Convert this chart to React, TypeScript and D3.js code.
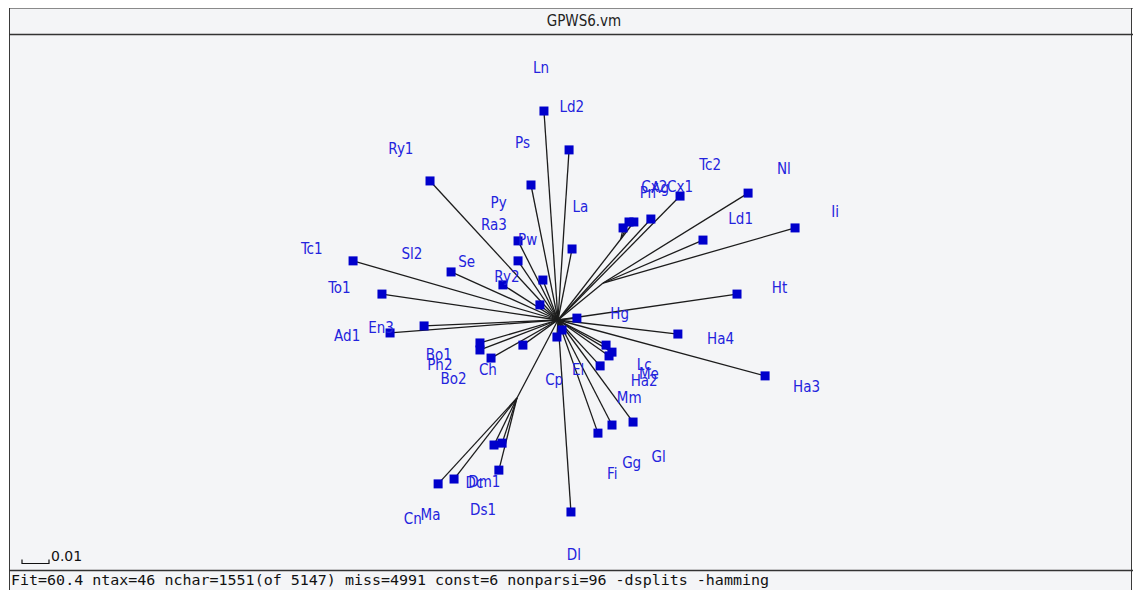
import React from "react";
import * as d3 from "d3";

// Window title and status line
const title = "GPWS6.vm";
const statusLine =
  "Fit=60.4 ntax=46 nchar=1551(of 5147) miss=4991 const=6 nonparsi=96 -dsplits -hamming";
const scaleBarValue = 0.01;
const scaleBarLabel = "0.01";

// Internal split nodes (tree-space coordinates, root at origin)
const splitNames = ["root", "A", "B", "D"];
const splitX = [0, 0.0233, 0.0167, -0.0152];
const splitY = [0, 0.03, 0.0137, -0.0289];

// Taxa: name, tree-space coordinates, and the split node each hangs from
const taxa = [
  "Ln", "Ld2", "Ps", "Ry1", "Py", "Ra3", "Pw", "La", "Tc1", "Sl2", "Se", "Ry2",
  "To1", "En3", "Ad1", "Bo1", "Ph2", "Bo2", "Ch", "Cp", "El", "Hg", "Ha4", "Lc",
  "Me", "Ha2", "Mm", "Ha3", "Fi", "Gg", "Gl", "Dl", "Ds1", "Cn", "Ma", "Dc",
  "Dm1", "Ht", "Ld1", "Ii", "Nl", "Tc2", "Cx1", "Cx2", "Pn", "Ag",
];
const taxonX = [
  -0.0052, 0.0041, -0.01, -0.0474, -0.0148, -0.0148, -0.0056, 0.0052, -0.0759,
  -0.0396, -0.0204, -0.0067, -0.0652, -0.0496, -0.0622, -0.0289, -0.0289,
  -0.0248, -0.013, -0.0004, 0.0015, 0.007, 0.0444, 0.0178, 0.02, 0.0189, 0.0156,
  0.0767, 0.0148, 0.02, 0.0278, 0.0048, -0.0219, -0.0444, -0.0385, -0.0237,
  -0.0207, 0.0663, 0.0537, 0.0878, 0.0704, 0.0452, 0.0344, 0.0263, 0.0241,
  0.0281,
];
const taxonY = [
  0.0774, 0.063, 0.05, 0.0515, 0.0293, 0.0219, 0.0148, 0.0263, 0.0219, 0.0178,
  0.013, 0.0056, 0.0096, -0.0022, -0.0048, -0.0085, -0.0111, -0.0141, -0.0093,
  -0.0063, -0.0037, 0.0007, -0.0052, -0.0093, -0.0119, -0.0133, -0.017, -0.0207,
  -0.0419, -0.0389, -0.0378, -0.0711, -0.0556, -0.0607, -0.0589, -0.0463,
  -0.0456, 0.0096, 0.0296, 0.0341, 0.047, 0.0459, 0.0374, 0.0363, 0.0341,
  0.0363,
];
const taxonParent = [
  "root", "root", "root", "root", "root", "root", "root", "root", "root", "root",
  "root", "root", "root", "root", "root", "root", "root", "root", "root", "root",
  "root", "root", "root", "root", "root", "root", "root", "root", "root", "root",
  "root", "root", "D", "D", "D", "D", "D", "root", "B", "B", "B", "root", "root",
  "A", "A", "A",
];

const W = 1133;
const H = 590;
const BG = "#f4f5f7";
const EDGE = "#1c1c1c";
const NODE_BLUE = "#0000cc";
const LABEL_BLUE = "#2323dd";

export default function App() {
  const x = d3.scaleLinear().domain([0, 0.01]).range([558, 585]);
  const y = d3.scaleLinear().domain([0, 0.01]).range([320, 293]);

  const splitPos = new Map<string, [number, number]>();
  splitNames.forEach((n, i) => splitPos.set(n, [x(splitX[i]), y(splitY[i])]));
  const [rx, ry] = splitPos.get("root")!;

  const nodes = taxa.map((name, i) => {
    const px = x(taxonX[i]);
    const py = y(taxonY[i]);
    const [ax, ay] = splitPos.get(taxonParent[i])!;
    const dx = px - rx;
    const dy = py - ry;
    const len = Math.hypot(dx, dy) || 1;
    const off = 43;
    return {
      name,
      px,
      py,
      ax,
      ay,
      lx: px + (dx / len) * off,
      ly: py + (dy / len) * off,
    };
  });

  const line = d3.line();
  const barLen = x(scaleBarValue) - x(0);

  return (
    <svg
      width={W}
      height={H}
      style={{ position: "absolute", left: 0, top: 0, background: "#ffffff" }}
    >
      {/* window body */}
      <rect x={9} y={8} width={W - 10} height={H - 8} fill={BG} />
      <line x1={9} y1={8.5} x2={W} y2={8.5} stroke="#8a8a8a" strokeWidth={1} />
      <line x1={9.5} y1={8} x2={9.5} y2={H} stroke="#3a3a3a" strokeWidth={1} />
      <line x1={W - 1.5} y1={8} x2={W - 1.5} y2={H} stroke="#3a3a3a" strokeWidth={1} />
      <line x1={9} y1={34.5} x2={W} y2={34.5} stroke="#333" strokeWidth={1.5} />
      <text
        x={584}
        y={26}
        textAnchor="middle"
        fontFamily="'DejaVu Sans Condensed', 'DejaVu Sans', sans-serif"
        fontStretch="condensed"
        fontSize={15}
        fill="#222"
      >
        {title}
      </text>

      {/* internal split edges */}
      {splitNames
        .filter((n) => n !== "root")
        .map((n) => {
          const p = splitPos.get(n)!;
          return (
            <path
              key={"s" + n}
              d={line([[rx, ry], p]) || ""}
              stroke={EDGE}
              strokeWidth={1.3}
              fill="none"
            />
          );
        })}

      {/* pendant edges */}
      {nodes.map((d) => (
        <path
          key={"e" + d.name}
          d={line([[d.ax, d.ay], [d.px, d.py]]) || ""}
          stroke={EDGE}
          strokeWidth={1.3}
          fill="none"
        />
      ))}

      {/* taxon squares */}
      {nodes.map((d) => (
        <rect
          key={"n" + d.name}
          x={d.px - 4.5}
          y={d.py - 4.5}
          width={9}
          height={9}
          fill={NODE_BLUE}
        />
      ))}

      {/* taxon labels */}
      {nodes.map((d) => (
        <text
          key={"l" + d.name}
          x={d.lx}
          y={d.ly}
          textAnchor="middle"
          dominantBaseline="central"
          fontFamily="'DejaVu Sans Condensed', 'DejaVu Sans', sans-serif"
          fontStretch="condensed"
          fontSize={15}
          fill={LABEL_BLUE}
        >
          {d.name}
        </text>
      ))}

      {/* scale bar */}
      <path
        d={`M22,559.5V563.5H${22 + barLen}V559.5`}
        stroke="#111"
        strokeWidth={1.2}
        fill="none"
      />
      <text
        x={24 + barLen}
        y={561}
        fontFamily="'DejaVu Sans', sans-serif"
        fontSize={14}
        fill="#111"
      >
        {scaleBarLabel}
      </text>

      {/* status line */}
      <line x1={9} y1={570.5} x2={W} y2={570.5} stroke="#333" strokeWidth={1.5} />
      <text
        x={11}
        y={585}
        fontFamily="'DejaVu Sans Mono', monospace"
        fontSize={14}
        textLength={758}
        lengthAdjust="spacingAndGlyphs"
        fill="#111"
      >
        {statusLine}
      </text>
    </svg>
  );
}
